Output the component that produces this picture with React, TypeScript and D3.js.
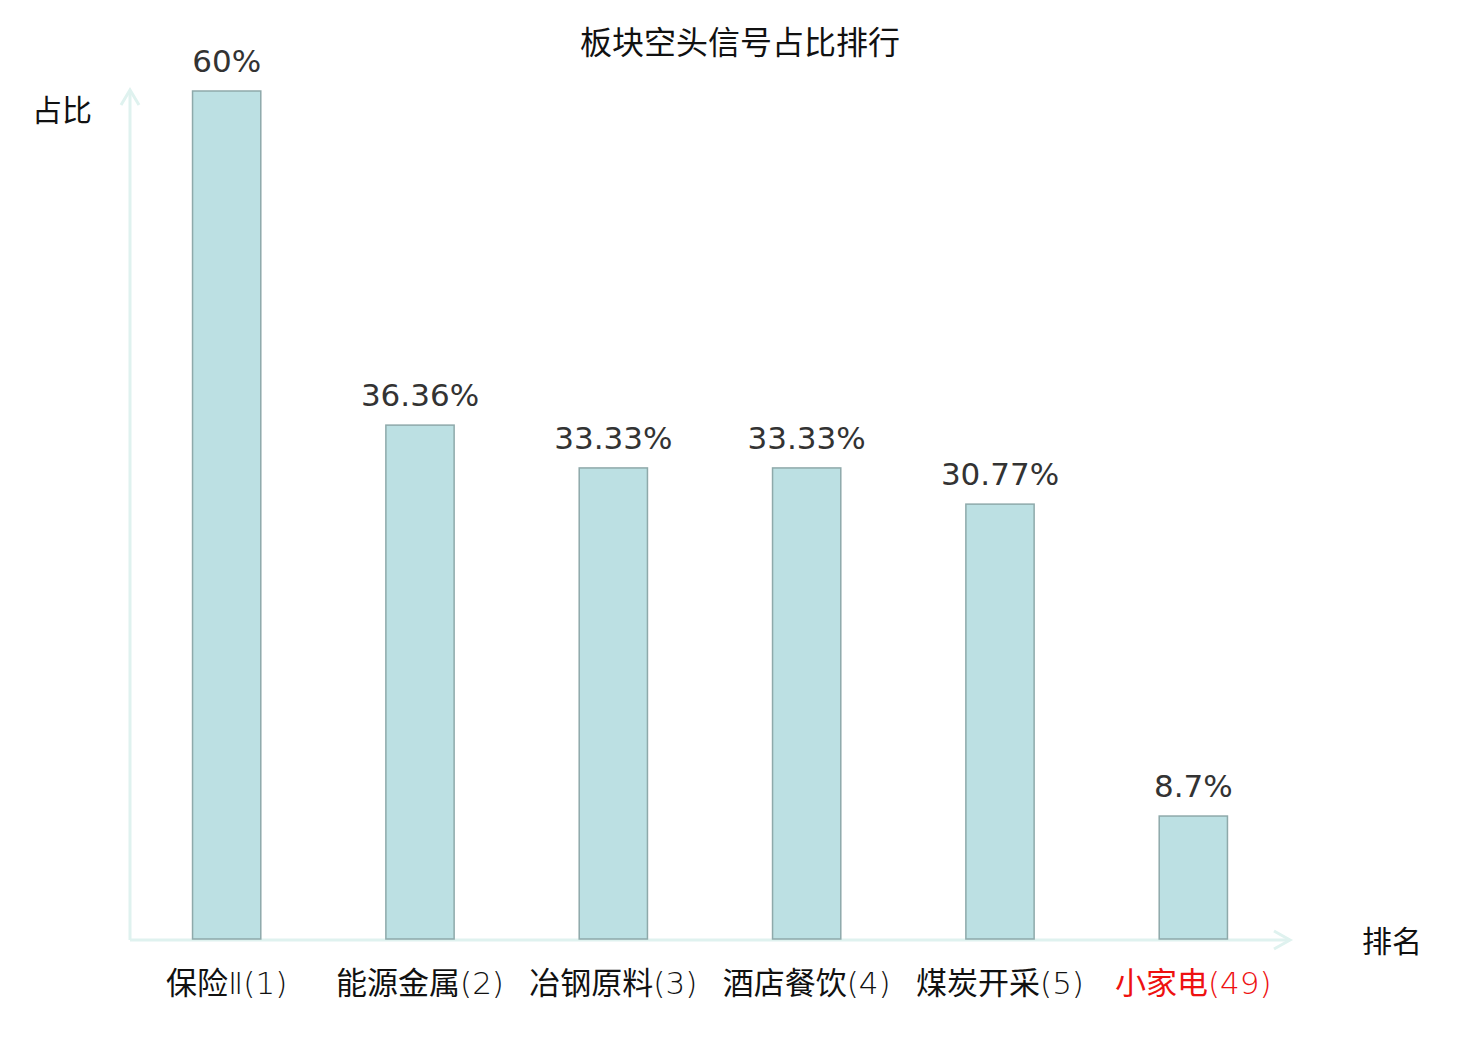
import React from "react";
import * as d3 from "d3";

const categories = ["保险Ⅱ(1)", "能源金属(2)", "冶钢原料(3)", "酒店餐饮(4)", "煤炭开采(5)", "小家电(49)"];
const values = [60, 36.36, 33.33, 33.33, 30.77, 8.7];
const valueLabels = ["60%", "36.36%", "33.33%", "33.33%", "30.77%", "8.7%"];
const highlighted = [false, false, false, false, false, true];

const W = 1480;
const H = 1040;
const x0 = 130;
const x1 = 1290;
const yBase = 939;
const yTop = 91;

export default function App() {
  const x = d3.scaleBand<string>().domain(categories).range([x0, x1]).paddingInner(0).paddingOuter(0);
  const y = d3.scaleLinear().domain([0, 60]).range([yBase, yTop]);
  const bw = x.step() * 0.353;
  const axisColor = "#dff2ef";
  const font = "'DejaVu Sans', sans-serif";
  const cjk = "'Noto Sans CJK SC', 'DejaVu Sans', sans-serif";
  return (
    <svg width={W} height={H} style={{ position: "absolute", left: 0, top: 0, background: "#fff" }}>
      <text x={740} y={54} textAnchor="middle" fontFamily={cjk} fontSize={32} fill="#111">
        板块空头信号占比排行
      </text>
      <line x1={x0} y1={yBase + 1} x2={x0} y2={90} stroke={axisColor} strokeWidth={3} />
      <polyline points={`${x0 - 9},${105} ${x0},${90} ${x0 + 9},${105}`} fill="none" stroke={axisColor} strokeWidth={3} />
      <line x1={x0} y1={yBase + 1} x2={x1} y2={yBase + 1} stroke={axisColor} strokeWidth={3} />
      <polyline points={`${x1 - 16},${yBase - 8} ${x1},${yBase + 1} ${x1 - 16},${yBase + 10}`} fill="none" stroke={axisColor} strokeWidth={3} />
      <text x={62} y={121} textAnchor="middle" fontFamily={cjk} fontSize={30} fill="#111">占比</text>
      <text x={1392} y={952} textAnchor="middle" fontFamily={cjk} fontSize={30} fill="#111">排名</text>
      {categories.map((c, i) => {
        const cx = (x(c) as number) + x.bandwidth() / 2;
        const top = y(values[i]);
        const m = c.match(/^(.*?)(Ⅱ?\(\d+\))$/);
        const name = m ? m[1] : c;
        const rank = m ? m[2] : "";
        return (
          <g key={c}>
            <rect x={cx - bw / 2} y={top} width={bw} height={yBase - top} fill="#bce0e3" stroke="#8ea9aa" strokeWidth={1.5} />
            <text x={cx} y={top - 19} textAnchor="middle" fontFamily={font} fontSize={31} fill="#333">
              {valueLabels[i]}
            </text>
            <text x={cx} y={994} textAnchor="middle" fontFamily={cjk} fontSize={31} fill={highlighted[i] ? "#ee1111" : "#111"}>
              <tspan>{name}</tspan>
              <tspan fontFamily="'DejaVu Sans', sans-serif" fontWeight={200}>{rank}</tspan>
            </text>
          </g>
        );
      })}
    </svg>
  );
}
